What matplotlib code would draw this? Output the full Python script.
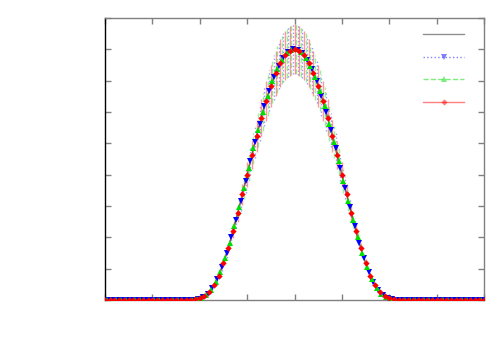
import numpy as np
import matplotlib
matplotlib.use("Agg")
import matplotlib.pyplot as plt
from matplotlib.lines import Line2D

# x sampling grids (step 0.1, the three series interleaved)
red_x = np.linspace(-4.0, 4.0, 81)
green_x = np.linspace(-3.9667, 3.9333, 80)
blue_x = np.linspace(-3.9333, 3.9667, 80)

red_y = [0, 0, 0, 0, 0, 0, 0, 0, 0, 0, 0, 0, 0, 0, 0, 0, 0, 0,
         0.0002, 0.0008, 0.0025, 0.0060, 0.0125, 0.0235, 0.0390, 0.0586, 0.0824, 0.1092, 0.1382, 0.1687,
         0.2000, 0.2313, 0.2618, 0.2908, 0.3176, 0.3414, 0.3618, 0.3782, 0.3902, 0.3975,
         0.4000,
         0.3975, 0.3902, 0.3782, 0.3618, 0.3414, 0.3176, 0.2908, 0.2618, 0.2313, 0.2000,
         0.1687, 0.1382, 0.1092, 0.0824, 0.0586, 0.0390, 0.0235, 0.0125, 0.0060, 0.0025, 0.0008, 0.0002,
         0, 0, 0, 0, 0, 0, 0, 0, 0, 0, 0, 0, 0, 0, 0, 0, 0, 0]
red_err = [0, 0, 0, 0, 0, 0, 0, 0, 0, 0, 0, 0, 0, 0, 0, 0, 0, 0,
           0, 0.0001, 0.0003, 0.0006, 0.001, 0.002, 0.004, 0.006, 0.008, 0.011, 0.014, 0.017,
           0.020, 0.023, 0.026, 0.029, 0.032, 0.034, 0.036, 0.038, 0.039, 0.040,
           0.040,
           0.040, 0.039, 0.038, 0.036, 0.034, 0.032, 0.029, 0.026, 0.023, 0.020,
           0.017, 0.014, 0.011, 0.008, 0.006, 0.004, 0.002, 0.001, 0.0006, 0.0003, 0.0001, 0,
           0, 0, 0, 0, 0, 0, 0, 0, 0, 0, 0, 0, 0, 0, 0, 0, 0, 0]

green_y = [0, 0, 0, 0, 0, 0, 0, 0, 0, 0, 0, 0, 0, 0, 0, 0, 0,
           0.0001, 0.0003, 0.0012, 0.0035, 0.0079, 0.0158, 0.0283, 0.0452, 0.0662, 0.0911, 0.1187, 0.1482, 0.1791,
           0.2105, 0.2416, 0.2717, 0.3000, 0.3259, 0.3486, 0.3677, 0.3827, 0.3932, 0.3989,
           0.3997, 0.3956, 0.3867, 0.3732, 0.3554, 0.3338, 0.3089, 0.2813, 0.2518, 0.2209,
           0.1895, 0.1584, 0.1283, 0.1000, 0.0741, 0.0518, 0.0335, 0.0192, 0.0100, 0.0045, 0.0017, 0.0005, 0.0001,
           0, 0, 0, 0, 0, 0, 0, 0, 0, 0, 0, 0, 0, 0, 0, 0, 0]
green_err = [0, 0, 0, 0, 0, 0, 0, 0, 0, 0, 0, 0, 0, 0, 0, 0, 0,
             0, 0, 0.0001, 0.0004, 0.0008, 0.0016, 0.003, 0.005, 0.007, 0.009, 0.012, 0.015, 0.018,
             0.021, 0.024, 0.027, 0.030, 0.033, 0.035, 0.037, 0.038, 0.039, 0.040,
             0.040, 0.040, 0.039, 0.037, 0.036, 0.033, 0.031, 0.028, 0.025, 0.022,
             0.019, 0.016, 0.013, 0.010, 0.007, 0.005, 0.003, 0.002, 0.001, 0.0005, 0.0002, 0, 0,
             0, 0, 0, 0, 0, 0, 0, 0, 0, 0, 0, 0, 0, 0, 0, 0, 0]

blue_y = [0, 0, 0, 0, 0, 0, 0, 0, 0, 0, 0, 0, 0, 0, 0, 0, 0,
          0.0001, 0.0005, 0.0017, 0.0045, 0.0100, 0.0192, 0.0335, 0.0518, 0.0741, 0.1000, 0.1283, 0.1584, 0.1895,
          0.2209, 0.2518, 0.2813, 0.3089, 0.3338, 0.3554, 0.3732, 0.3867, 0.3956, 0.3997,
          0.3989, 0.3932, 0.3827, 0.3677, 0.3486, 0.3259, 0.3000, 0.2717, 0.2416, 0.2105,
          0.1791, 0.1482, 0.1187, 0.0911, 0.0662, 0.0452, 0.0283, 0.0158, 0.0079, 0.0035, 0.0012, 0.0003, 0.0001,
          0, 0, 0, 0, 0, 0, 0, 0, 0, 0, 0, 0, 0, 0, 0, 0, 0]
blue_err = [0, 0, 0, 0, 0, 0, 0, 0, 0, 0, 0, 0, 0, 0, 0, 0, 0,
            0, 0, 0.0002, 0.0005, 0.001, 0.002, 0.003, 0.005, 0.007, 0.010, 0.013, 0.016, 0.019,
            0.022, 0.025, 0.028, 0.031, 0.033, 0.036, 0.037, 0.039, 0.040, 0.040,
            0.040, 0.039, 0.038, 0.037, 0.035, 0.033, 0.030, 0.027, 0.024, 0.021,
            0.018, 0.015, 0.012, 0.009, 0.007, 0.005, 0.003, 0.0016, 0.0008, 0.0004, 0.0001, 0, 0,
            0, 0, 0, 0, 0, 0, 0, 0, 0, 0, 0, 0, 0, 0, 0, 0, 0]

x_ticks = [-4, -3, -2, -1, 0, 1, 2, 3, 4]
y_ticks = [0, 0.05, 0.10, 0.15, 0.20, 0.25, 0.30, 0.35, 0.40, 0.45]

fig = plt.figure(figsize=(5, 3.5), dpi=100)
ax = fig.add_axes([0.21, 0.143, 0.758, 0.806])

series = [
    (blue_x, blue_y, blue_err, "#0000ff", "v", ":", 4.0),
    (green_x, green_y, green_err, "#00dd00", "^", "--", 4.0),
    (red_x, red_y, red_err, "#ff0000", "D", "-", 3.2),
]

# error bars (light, same dash style as the series)
for x, y, e, c, m, ls, ms in series:
    eb = ax.errorbar(x, y, yerr=e, fmt="none", ecolor=c, alpha=0.4, elinewidth=1.0, capsize=0, zorder=2)
    eb[2][0].set_linestyle(ls)

# reference curve
ax.plot(red_x, red_y, color="#909090", lw=1, zorder=3)

handles = [Line2D([], [], color="#909090", lw=1)]
for x, y, e, c, m, ls, ms in series:
    ax.plot(x, y, color=c, ls=ls, lw=1, alpha=0.4, zorder=3)
    ax.plot(x, y, ls="none", marker=m, color=c, ms=ms, mew=0, zorder=4)
    handles.append(Line2D([], [], color=c, ls=ls, lw=1, alpha=0.5, marker=m, ms=ms, mew=0))

ax.set_xlim(-4, 4)
ax.set_ylim(0, 0.45)
ax.set_xticks(x_ticks)
ax.set_yticks(y_ticks)
ax.tick_params(direction="in", length=4, width=1, color="#808080",
               top=True, right=True, labelbottom=False, labelleft=False)
for side in ["top", "right", "bottom"]:
    ax.spines[side].set_color("#808080")
ax.spines["left"].set_color("black")
for s in ax.spines.values():
    s.set_linewidth(1)

ax.legend(handles, ["", "", "", ""], loc="upper right", bbox_to_anchor=(0.961, 0.985),
          frameon=False, fontsize=10, handlelength=2.9, labelspacing=0.635,
          handletextpad=0, borderaxespad=0, numpoints=1)

fig.savefig("out.png", dpi=100)
